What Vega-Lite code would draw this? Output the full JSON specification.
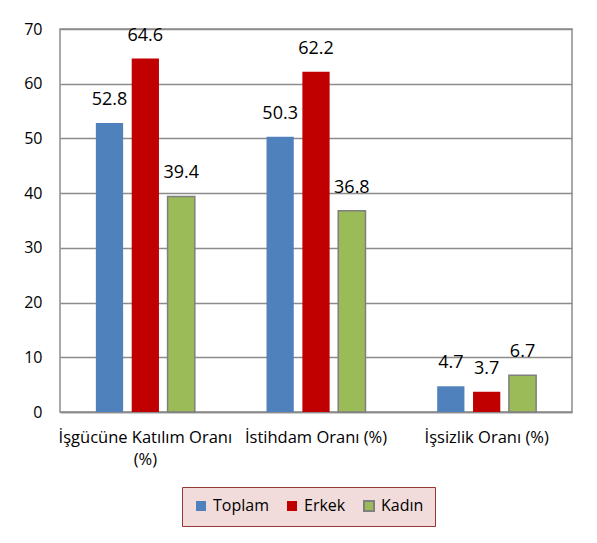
{
  "$schema": "https://vega.github.io/schema/vega-lite/v6.json",
  "width": 512,
  "height": 383,
  "autosize": {"type": "none"},
  "padding": {"left": 60, "top": 29, "right": 25, "bottom": 131},
  "background": "white",
  "config": {
    "font": "Open Sans",
    "view": {"stroke": "#8c8c8c", "strokeWidth": 1.5}
  },
  "data": {
    "values": [
      {"cat": "İşgücüne Katılım Oranı (%)", "grp": "Toplam", "v": 52.8},
      {"cat": "İşgücüne Katılım Oranı (%)", "grp": "Erkek", "v": 64.6},
      {"cat": "İşgücüne Katılım Oranı (%)", "grp": "Kadın", "v": 39.4},
      {"cat": "İstihdam Oranı (%)", "grp": "Toplam", "v": 50.3},
      {"cat": "İstihdam Oranı (%)", "grp": "Erkek", "v": 62.2},
      {"cat": "İstihdam Oranı (%)", "grp": "Kadın", "v": 36.8},
      {"cat": "İşsizlik Oranı (%)", "grp": "Toplam", "v": 4.7},
      {"cat": "İşsizlik Oranı (%)", "grp": "Erkek", "v": 3.7},
      {"cat": "İşsizlik Oranı (%)", "grp": "Kadın", "v": 6.7}
    ]
  },
  "encoding": {
    "x": {
      "field": "cat", "type": "nominal", "sort": null,
      "scale": {"paddingInner": 0, "paddingOuter": 0},
      "axis": {
        "title": null, "labelAngle": 0, "ticks": false, "domain": true,
        "domainColor": "#8c8c8c", "domainWidth": 1.5,
        "labelFontSize": 16.5, "labelColor": "#000", "labelPadding": 25,
        "labelLimit": 220, "labelLineHeight": 22, "labelBaseline": "middle",
        "labelExpr": "datum.value == 'İşgücüne Katılım Oranı (%)' ? ['İşgücüne Katılım Oranı', '(%)'] : datum.value"
      }
    },
    "xOffset": {
      "field": "grp", "type": "nominal", "sort": ["Toplam", "Erkek", "Kadın"],
      "scale": {"paddingInner": 0.24, "paddingOuter": 1.73}
    },
    "y": {
      "field": "v", "type": "quantitative",
      "scale": {"domain": [0, 70]},
      "axis": {
        "title": null, "values": [0,10,20,30,40,50,60,70],
        "ticks": false, "domain": false, "labelPadding": 18,
        "labelFontSize": 16, "labelColor": "#000",
        "gridColor": "#8c8c8c", "gridWidth": 1.5
      }
    }
  },
  "layer": [
    {
      "mark": {"type": "bar", "strokeWidth": 1.5},
      "encoding": {
        "color": {
          "field": "grp", "type": "nominal", "sort": ["Toplam", "Erkek", "Kadın"],
          "scale": {"domain": ["Toplam", "Erkek", "Kadın"], "range": ["#4f81bd", "#c00000", "#9bbb59"]},
          "legend": {
            "title": null, "orient": "none", "direction": "horizontal",
            "legendX": 122, "legendY": 458,
            "symbolType": "square", "symbolSize": 100, "symbolStrokeWidth": 2,
            "labelFontSize": 16, "labelColor": "#000", "columnPadding": 14,
            "fillColor": "#f2dcdb", "strokeColor": "#953735",
            "padding": 11
          }
        },
        "stroke": {
          "field": "grp", "type": "nominal", "sort": ["Toplam", "Erkek", "Kadın"],
          "scale": {"domain": ["Toplam", "Erkek", "Kadın"], "range": ["transparent", "transparent", "#7f7f7f"]}
        }
      }
    },
    {
      "mark": {"type": "text", "dy": -14, "baseline": "bottom", "fontSize": 18, "color": "#000"},
      "encoding": {"text": {"field": "v", "type": "quantitative", "format": ".1f"}}
    }
  ]
}
